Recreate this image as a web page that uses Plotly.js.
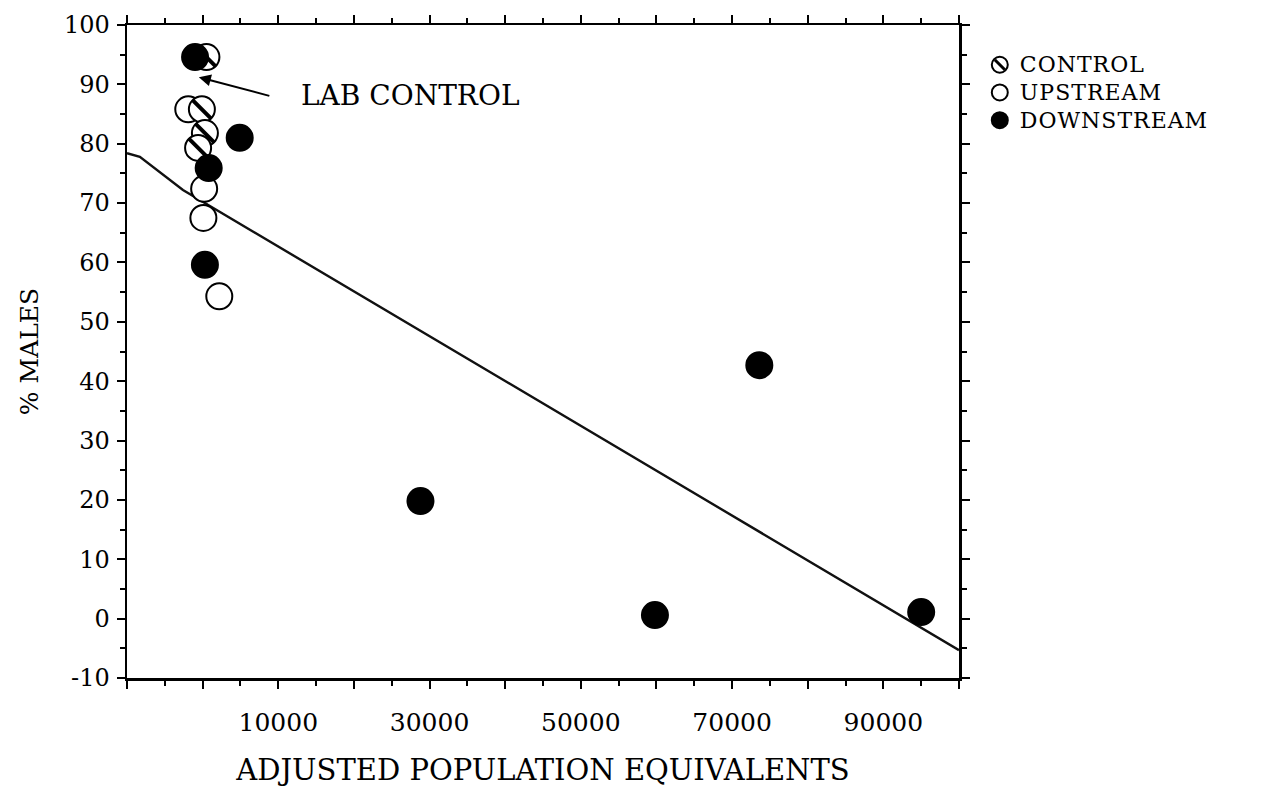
<!DOCTYPE html>
<html>
<head>
<meta charset="utf-8">
<script src="https://cdn.plot.ly/plotly-3.0.1.min.js"></script>
<style>
html,body{margin:0;padding:0;background:#fff;}
#chart{width:1276px;height:794px;}
#chart .legend .legendtext{font-size:22px !important;letter-spacing:1px;}
#chart .legend .scrollbox{clip-path:none !important;}
#chart .legend{overflow:visible;}
</style>
</head>
<body>
<div id="chart"></div>
<script>
// ---- data ----
const controlX = [500, -100, 300, -600];
const controlY = [94.6, 85.8, 81.8, 79.3];
const upstreamX = [-1900, 200, 100, 2200];
const upstreamY = [85.8, 72.4, 67.5, 54.3];
const downstreamX = [-1000, 4900, 800, 300, 28800, 59800, 73600, 95000];
const downstreamY = [94.6, 81.0, 75.9, 59.6, 19.8, 0.6, 42.7, 1.1];
const lineX = [-10000, -8300, -2600, 100000];
const lineY = [78.4, 77.8, 72.2, -5.3];

const xTickVals = [-10000, 0, 10000, 20000, 30000, 40000, 50000, 60000, 70000, 80000, 90000, 100000];
const xTickText = ['', '', '10000', '', '30000', '', '50000', '', '70000', '', '90000', ''];
const yTickVals = [-10, 0, 10, 20, 30, 40, 50, 60, 70, 80, 90, 100];
const yTickText = ['-10', '0', '10', '20', '30', '40', '50', '60', '70', '80', '90', '100'];

const FONT = 'DejaVu Serif';
const MS = 26;

const traces = [
  {x: lineX, y: lineY, mode: 'lines', line: {color: '#111', width: 2.4}, showlegend: false, hoverinfo: 'skip'},
  {x: upstreamX, y: upstreamY, mode: 'markers', name: 'UPSTREAM', legendrank: 2,
   marker: {symbol: 'circle', size: MS, color: '#fff', line: {color: '#000', width: 2}}},
  {x: controlX, y: controlY, mode: 'markers', name: 'CONTROL', legendrank: 1,
   marker: {symbol: 'circle', size: MS, color: '#fff', line: {color: '#000', width: 2}}},
  {x: controlX, y: controlY, mode: 'markers', showlegend: false, hoverinfo: 'skip',
   marker: {symbol: 'line-nw', size: MS - 7, color: '#000', line: {color: '#000', width: 4}}},
  {x: downstreamX, y: downstreamY, mode: 'markers', name: 'DOWNSTREAM', legendrank: 3,
   marker: {symbol: 'circle', size: MS, color: '#000', line: {color: '#000', width: 2}}}
];

const axisCommon = {
  showgrid: false, zeroline: false, showline: true, linecolor: '#000', linewidth: 2.5,
  ticks: 'outside', tickcolor: '#000', tickwidth: 2, ticklen: 8, mirror: 'allticks',
  tickfont: {family: FONT, size: 24, color: '#000'}
};

const layout = {
  width: 1276, height: 794,
  margin: {l: 127, r: 317, t: 25, b: 116},
  paper_bgcolor: '#fff', plot_bgcolor: '#fff',
  font: {family: FONT, color: '#000'},
  xaxis: Object.assign({}, axisCommon, {
    range: [-10000, 100000], tickmode: 'array', tickvals: xTickVals, ticktext: xTickText,
    tickfont: {family: FONT, size: 25, color: '#000'}, ticklabelstandoff: 12,
    minor: {dtick: 5000, tick0: -10000, ticks: 'outside', ticklen: 5, tickwidth: 2, tickcolor: '#000'},
    title: {text: 'ADJUSTED POPULATION EQUIVALENTS', font: {family: FONT, size: 29, color: '#000'}, standoff: 24}
  }),
  yaxis: Object.assign({}, axisCommon, {
    range: [-10, 100], tickmode: 'array', tickvals: yTickVals, ticktext: yTickText,
    ticklabelstandoff: 2,
    minor: {dtick: 5, tick0: -10, ticks: 'outside', ticklen: 5, tickwidth: 2, tickcolor: '#000'},
    title: {text: '% MALES', font: {family: FONT, size: 25, color: '#000'}, standoff: 18}
  }),
  legend: {
    x: 1.025, y: 0.968, xanchor: 'left', yanchor: 'top',
    bgcolor: 'rgba(0,0,0,0)', borderwidth: 0,
    font: {family: FONT, size: 19, color: '#000'}, tracegroupgap: 0
  },
  annotations: [
    {x: 27400, y: 88.2, xref: 'x', yref: 'y', text: 'LAB CONTROL', showarrow: false,
     font: {family: FONT, size: 28, color: '#000'}},
    {x: -500, y: 91.2, xref: 'x', yref: 'y', text: '', showarrow: true,
     ax: 72, ay: 19, arrowhead: 2, arrowsize: 1.2, arrowwidth: 2, arrowcolor: '#000'}
  ],
  showlegend: true
};

Plotly.newPlot('chart', traces, layout, {staticPlot: true}).then(function (gd) {
  const ns = 'http://www.w3.org/2000/svg';
  // let the enlarged legend text show in full
  gd.querySelectorAll('.legend .scrollbox').forEach(function (s) { s.removeAttribute('clip-path'); });
  // add diagonal hatch stroke to the CONTROL legend symbol
  gd.querySelectorAll('.legend .traces').forEach(function (t) {
    if (t.textContent.indexOf('CONTROL') !== -1) {
      const pt = t.querySelector('path.scatterpts');
      if (pt) {
        const p = document.createElementNS(ns, 'path');
        p.setAttribute('d', 'M-5,-5L5,5');
        const tr = pt.getAttribute('transform');
        if (tr) p.setAttribute('transform', tr);
        p.setAttribute('style', 'stroke:#000;stroke-width:3;fill:none');
        pt.parentNode.appendChild(p);
      }
    }
  });
});
</script>
</body>
</html>
